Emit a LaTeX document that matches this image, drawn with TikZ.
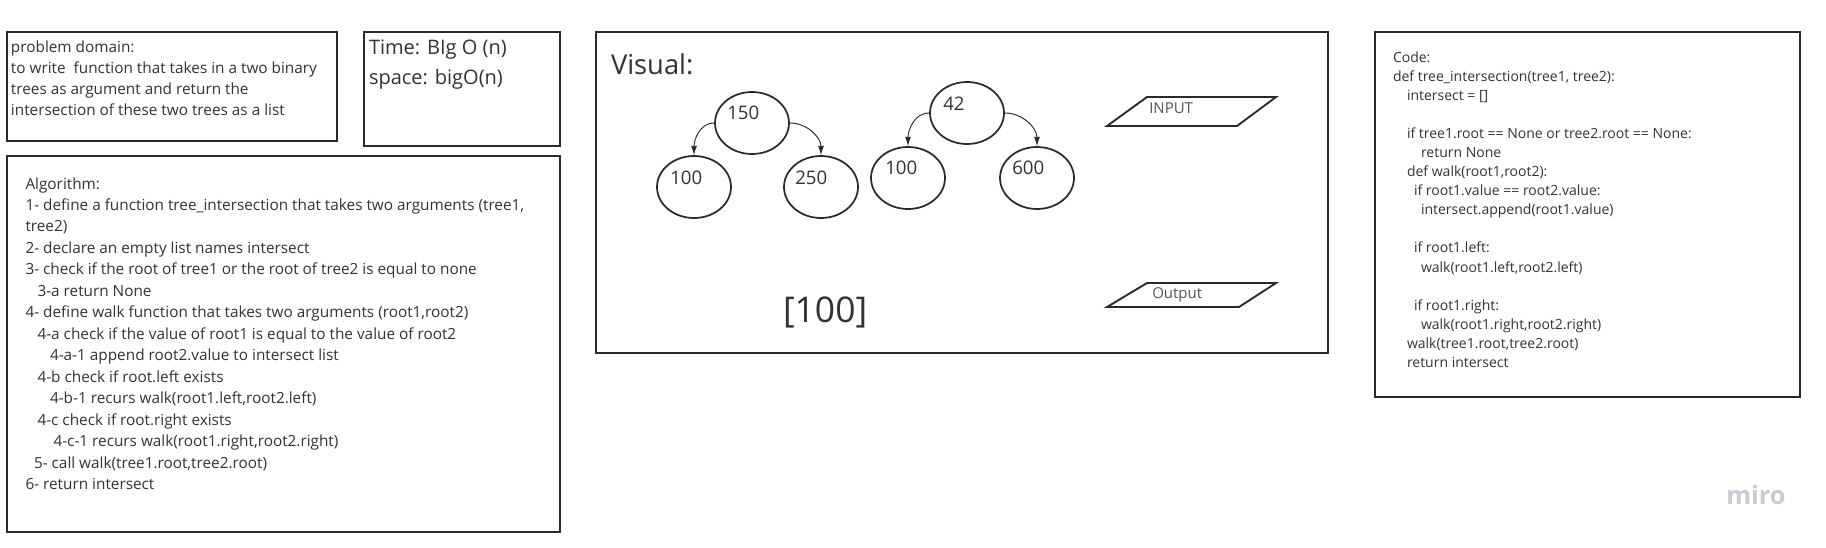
\documentclass[tikz,border=0pt]{standalone}
\usepackage{fontspec}
\setmainfont{Open Sans}
\usetikzlibrary{shapes.geometric,arrows.meta}
\definecolor{txt}{HTML}{333333}
\definecolor{brd}{HTML}{2A2A2A}
\definecolor{mirog}{HTML}{C8CBD5}
\definecolor{lbl}{HTML}{555555}
\newlength\pxu
\setlength\pxu{0.75pt}
\newcommand\fsz[2]{\fontsize{#1}{#2}\selectfont}
\newcommand\ind[1]{\hspace*{#1\pxu}}
\begin{document}
\begin{tikzpicture}[x=0.75pt,y=-0.75pt,
  box/.style={draw=brd, line width=1.3pt},
  tn/.style={anchor=base west, inner sep=0pt, outer sep=0pt, text=txt},
  ell/.style={ellipse, draw=brd, line width=1.3pt, minimum width=55.5pt, minimum height=46.5pt, inner sep=0pt},
  num/.style={anchor=base west, inner sep=0pt, text=txt, font=\fsz{14pt}{17pt}},
  arr/.style={draw=brd, line width=0.7pt, -{Latex[length=7pt,width=4.5pt]}},
  pbox/.style={draw=brd, line width=1.4pt, line join=miter},
  plbl/.style={anchor=base west, inner sep=0pt, text=lbl, font=\fsz{11.25pt}{13pt}}
]
\useasboundingbox (0,0) rectangle (1826,547);
\fill[white] (0,0) rectangle (1826,547);

% boxes
\draw[box] (7,32) rectangle (337,141);
\draw[box] (364,32) rectangle (560,146);
\draw[box] (7,156) rectangle (560,532);
\draw[box] (596,32) rectangle (1328,353);
\draw[box] (1375,32) rectangle (1800,397);

% problem domain
\node[tn, font=\fsz{11.5pt}{15.75pt}] (prob) at (11,52) {\begin{tabular}[t]{@{}l@{}}
problem domain:\\
to write\ \ function that takes in a two binary\\
trees as argument and return the\\
intersection of these two trees as a list
\end{tabular}};

% complexity
\node[tn, font=\fsz{15pt}{22.5pt}] (cplx) at (369,54) {\begin{tabular}[t]{@{}l@{}}
Time: BIg O (n)\\
space: bigO(n)
\end{tabular}};

% algorithm
\node[tn, font=\fsz{11.5pt}{16.1pt}] (alg) at (25.5,189) {\begin{tabular}[t]{@{}l@{}}
Algorithm:\\
1- define a function tree\_intersection that takes two arguments (tree1,\\
tree2)\\
2- declare an empty list names intersect\\
3- check if the root of tree1 or the root of tree2 is equal to none\\
\ind{12}3-a return None\\
4- define walk function that takes two arguments (root1,root2)\\
\ind{12}4-a check if the value of root1 is equal to the value of root2\\
\ind{24.5}4-a-1 append root2.value to intersect list\\
\ind{12}4-b check if root.left exists\\
\ind{24.5}4-b-1 recurs walk(root1.left,root2.left)\\
\ind{12}4-c check if root.right exists\\
\ind{28}4-c-1 recurs walk(root1.right,root2.right)\\
\ind{8.5}5- call walk(tree1.root,tree2.root)\\
6- return intersect
\end{tabular}};

% visual
\node[tn, font=\fsz{20.5pt}{24pt}] (vis) at (611,74) {Visual:};

\node[ell] (a150) at (752,123) {};
\node[ell] (a100) at (694,187) {};
\node[ell] (a250) at (821,187) {};
\node[ell] (b42) at (967,113) {};
\node[ell] (b100) at (908,178) {};
\node[ell] (b600) at (1037,178) {};

\node[num] (t150) at (727,119) {150};
\node[num] (ta100) at (670,184) {100};
\node[num] (t250) at (795,184) {250};
\node[num] (t42) at (943,110) {42};
\node[num] (tb100) at (885,174) {100};
\node[num] (t600) at (1012,174) {600};

\draw[arr] (a150.west) to[out=180,in=90] (a100.north);
\draw[arr] (a150.east) to[out=0,in=90] (a250.north);
\draw[arr] (b42.west) to[out=180,in=90] (b100.north);
\draw[arr] (b42.east) to[out=0,in=90] (b600.north);

\node[tn, font=\fsz{26.6pt}{30pt}] (res) at (783,322) {[100]};

% parallelograms
\draw[pbox] (1147,97) -- (1276,97) -- (1237,126) -- (1107,126) -- cycle;
\node[plbl] (inp) at (1149,113) {INPUT};
\draw[pbox] (1147,283) -- (1276,283) -- (1239,307) -- (1107,307) -- cycle;
\node[plbl] (outp) at (1152,298) {Output};

% code
\node[tn, font=\fsz{10.5pt}{14.3pt}] (code) at (1393,62.3) {\begin{tabular}[t]{@{}l@{}}
Code:\\
def tree\_intersection(tree1, tree2):\\
\ind{14}intersect = []\\
\\
\ind{14}if tree1.root == None or tree2.root == None:\\
\ind{28}return None\\
\ind{14}def walk(root1,root2):\\
\ind{21}if root1.value == root2.value:\\
\ind{28}intersect.append(root1.value)\\
\\
\ind{21}if root1.left:\\
\ind{28}walk(root1.left,root2.left)\\
\\
\ind{21}if root1.right:\\
\ind{28}walk(root1.right,root2.right)\\
\ind{14}walk(tree1.root,tree2.root)\\
\ind{14}return intersect
\end{tabular}};

% logo
\node[anchor=base west, inner sep=0pt, text=mirog, font=\fsz{19pt}{22pt}\bfseries] (logo) at (1726,504) {miro};
\end{tikzpicture}
\end{document}
